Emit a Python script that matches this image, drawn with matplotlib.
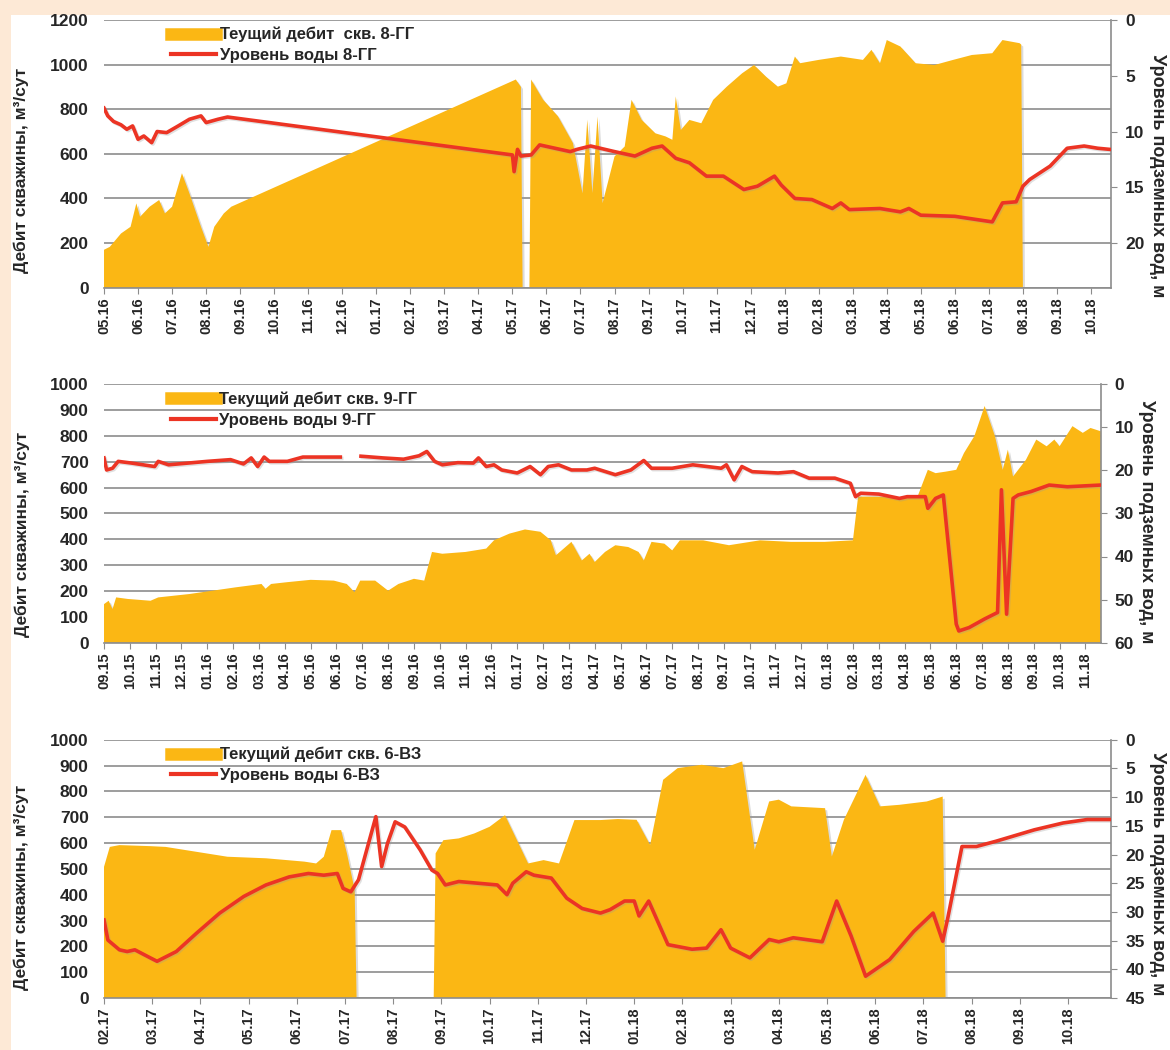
import numpy as np
import matplotlib
matplotlib.use("Agg")
from matplotlib import pyplot as plt
from matplotlib.lines import Line2D
from matplotlib.patches import Rectangle
import matplotlib.patheffects as pe

plt.rcParams['font.family'] = ['Liberation Sans', 'DejaVu Sans']
plt.rcParams['font.weight'] = 'bold'
plt.rcParams['axes.labelweight'] = 'bold'

ORANGE = '#fbb714'
RED = '#ec3424'
GRID = '#8c8c8c'
TXT = '#262626'

# ---- panel 1: well 8-GG, x = months since 05.16
t1_q = [0, 0.17, 0.5, 0.78, 0.95, 1.06, 1.34, 1.62, 1.79, 2.0, 2.29, 2.51, 2.85, 3.07,
        3.24, 3.52, 3.74, 12.1, 12.25, 12.3, 12.5, 12.55, 12.9, 13.34, 13.78, 14.06,
        14.2, 14.35, 14.5, 14.65, 15.0, 15.3, 15.5, 15.8, 16.2, 16.5, 16.7, 16.8, 16.95,
        17.2, 17.55, 17.9, 18.3, 18.75, 19.1, 19.45, 19.8, 20.05, 20.3, 20.45, 21.0,
        21.65, 22.3, 22.55, 22.8, 23.0, 23.4, 23.85, 24.4, 24.95, 25.5, 26.1, 26.4,
        26.9, 26.95, 27.0]
q1 = [170, 183, 243, 273, 378, 318, 363, 393, 333, 363, 513, 423, 273, 183,
      273, 333, 363, 933, 900, 0, 0, 933, 843, 768, 648, 423,
      753, 424, 767, 379, 588, 633, 842, 752, 692, 678, 663, 857, 707,
      752, 737, 842, 901, 961, 998, 946, 901, 916, 1036, 1006, 1021,
      1036, 1021, 1066, 1006, 1110, 1081, 1006, 998, 1021, 1043, 1051, 1110,
      1096, 1090, 0]
t1_h = [0, 0.11, 0.28, 0.5, 0.67, 0.84, 1.0, 1.17, 1.4, 1.56, 1.84, 2.18, 2.51, 2.85,
        3.0, 3.35, 3.63, 12.0, 12.05, 12.15, 12.25, 12.55, 12.8, 13.1, 13.7, 13.9, 14.3,
        15.0, 15.6, 16.1, 16.4, 16.8, 17.2, 17.7, 18.2, 18.8, 19.2, 19.7, 19.9, 20.3,
        20.8, 21.4, 21.65, 21.9, 22.8, 23.4, 23.65, 24.0, 25.0, 26.1, 26.4, 26.8, 27.0,
        27.2, 27.8, 28.3, 28.8, 29.2, 29.55]
h1 = [7.9, 8.6, 9.1, 9.4, 9.8, 9.5, 10.7, 10.4, 11.0, 10.0, 10.1, 9.5, 8.9, 8.6,
      9.2, 8.9, 8.7, 12.1, 13.6, 11.6, 12.2, 12.1, 11.2, 11.4, 11.8, 11.6, 11.3,
      11.8, 12.2, 11.5, 11.3, 12.4, 12.8, 14.0, 14.0, 15.2, 14.9, 14.0, 14.8, 16.0,
      16.1, 16.9, 16.4, 17.0, 16.9, 17.2, 16.9, 17.5, 17.6, 18.1, 16.4, 16.3, 14.9,
      14.3, 13.1, 11.5, 11.3, 11.5, 11.6]

# ---- panel 2: well 9-GG, x = months since 09.15
t2_q = [0, 0.18, 0.33, 0.47, 0.92, 1.8, 2.1, 3.3, 4.2, 5.1, 6.1, 6.25, 6.47, 7.1, 8.0,
        8.9, 9.4, 9.7, 9.92, 10.5, 11.0, 11.4, 12.0, 12.4, 12.7, 13.1, 14.0, 14.8,
        15.1, 15.7, 16.3, 16.9, 17.3, 17.5, 18.1, 18.5, 18.8, 19.0, 19.4, 19.8, 20.3,
        20.7, 20.9, 21.2, 21.7, 22.0, 22.3, 23.2, 24.2, 25.4, 26.6, 27.9, 29.0, 29.2,
        29.6, 30.3, 30.9, 31.5, 31.9, 32.2, 32.6, 33.0, 33.3, 33.7, 34.1, 34.5, 34.8,
        35.0, 35.2, 35.7, 36.1, 36.5, 36.8, 37.0, 37.5, 37.9, 38.2, 38.6]
q2 = [149, 162, 130, 175, 169, 162, 175, 188, 201, 214, 227, 208, 227, 234, 243,
      240, 227, 195, 240, 240, 201, 227, 247, 240, 351, 344, 351, 364,
      396, 422, 438, 429, 396, 338, 390, 318, 344, 312, 351, 377, 370,
      351, 318, 390, 383, 357, 396, 396, 377, 396, 390, 390, 396, 565,
      565, 565, 558, 565, 669, 656, 662, 669, 734, 799, 916, 799, 669,
      747, 643, 708, 786, 760, 786, 760, 838, 812, 831, 818]
t2_h = [0, 0.1, 0.33, 0.55, 1.07, 1.96, 2.1, 2.5, 4.0, 4.9, 5.4, 5.7, 5.95, 6.2, 6.4,
        7.1, 7.7, 9.15, 9.16, 9.95, 10.8, 11.6, 12.2, 12.5, 12.8, 13.1, 13.7, 14.3,
        14.5, 14.8, 15.1, 15.4, 16.0, 16.5, 16.9, 17.2, 17.6, 18.1, 18.7, 19.0, 19.8,
        20.4, 20.9, 21.2, 22.0, 22.8, 23.9, 24.1, 24.4, 24.7, 25.1, 26.1, 26.7, 27.3,
        28.3, 28.9, 29.1, 29.3, 30.0, 30.8, 31.1, 31.8, 31.9, 32.2, 32.5, 33.0, 33.1,
        33.5, 34.1, 34.6, 34.75, 34.95, 35.2, 35.4, 35.9, 36.6, 37.3, 38.6]
h2 = [17.1, 19.9, 19.5, 17.9, 18.3, 19.1, 17.9, 18.7, 17.9, 17.5, 18.5, 17.1, 19.1,
      16.9, 17.9, 17.9, 16.9, 16.9, np.nan, 16.7, 17.1, 17.4, 16.6, 15.6, 17.9, 18.7,
      18.2, 18.3, 17.1, 19.1, 18.7, 19.9, 20.6, 19.1, 21.0, 19.1, 18.7, 19.9, 19.9,
      19.5, 21.0, 19.9, 17.7, 19.5, 19.5, 18.7, 19.5, 18.7, 22.2, 19.1, 20.3, 20.6,
      20.3, 21.8, 21.8, 23.0, 26.1, 25.3, 25.5, 26.5, 26.1, 26.1, 28.8, 26.5, 25.7,
      55.7, 57.3, 56.5, 54.5, 53.0, 24.5, 53.4, 26.5, 25.7, 24.9, 23.4, 23.8, 23.4]

# ---- panel 3: well 6-VZ, x = months since 02.17
t3_q = [0, 0.12, 0.32, 0.96, 1.28, 1.92, 2.56, 3.36, 4.16, 4.4, 4.56, 4.72, 4.92,
        5.04, 5.2, 5.24, 6.84, 6.88, 7.04, 7.36, 7.68, 8.0, 8.32, 8.8, 9.12, 9.44,
        9.76, 10.3, 10.66, 11.05, 11.33, 11.6, 11.9, 12.4, 12.85, 13.24, 13.5, 13.8,
        14.0, 14.26, 14.96, 15.1, 15.35, 15.8, 16.1, 16.5, 17.07, 17.4, 17.46]
q3 = [508, 585, 592, 588, 585, 566, 547, 541, 528, 521, 547, 650, 650,
      560, 420, 0, 0, 560, 611, 618, 637, 663, 708, 521, 534, 521,
      689, 689, 693, 690, 593, 845, 890, 903, 890, 916, 574, 761,
      768, 742, 735, 548, 690, 864, 742, 748, 761, 780, 0]
t3_h = [0, 0.08, 0.32, 0.48, 0.64, 0.96, 1.1, 1.5, 1.92, 2.4, 2.9, 3.36, 3.84, 4.24,
        4.56, 4.84, 4.96, 5.12, 5.28, 5.64, 5.76, 5.88, 6.04, 6.24, 6.56, 6.8, 6.92,
        7.08, 7.36, 7.76, 8.16, 8.36, 8.48, 8.76, 8.92, 9.28, 9.6, 9.92, 10.3, 10.5,
        10.8, 11.0, 11.1, 11.3, 11.7, 12.2, 12.5, 12.8, 13.0, 13.4, 13.8, 14.0, 14.3,
        14.9, 15.2, 15.5, 15.8, 16.3, 16.8, 17.2, 17.4, 17.5, 17.8, 18.1, 18.5, 19.3,
        19.9, 20.4, 20.9]
h3 = [31.4, 34.9, 36.6, 36.9, 36.6, 38.0, 38.6, 36.9, 33.7, 30.2, 27.3, 25.3, 23.9,
      23.3, 23.6, 23.3, 25.9, 26.5, 24.4, 13.4, 22.1, 18.1, 14.3, 15.2, 19.2, 22.7,
      23.3, 25.3, 24.7, 25.0, 25.3, 27.0, 25.0, 23.0, 23.6, 24.1, 27.6, 29.4, 30.2,
      29.6, 28.1, 28.1, 30.7, 28.1, 35.7, 36.5, 36.3, 33.1, 36.3, 38.0, 34.8, 35.2,
      34.5, 35.2, 28.1, 34.2, 41.2, 38.3, 33.4, 30.2, 35.1, 31.3, 18.6, 18.6, 17.7,
      15.7, 14.5, 13.9, 13.9]


def month_labels(m, y, n):
    out = []
    for i in range(n):
        mm = (m - 1 + i) % 12 + 1
        yy = y + (m - 1 + i) // 12
        out.append("%02d.%02d" % (mm, yy))
    return out


panels = [
    dict(rect=[0.0889, 0.726, 0.861, 0.255], tq=t1_q, q=q1, th=t1_h, h=h1,
         labels=month_labels(5, 16, 30), xmax=29.6, qmax=1200, qstep=200,
         hmax=24, hticks=[0, 5, 10, 15, 20], ly=(0.44, 0.42),
         leg=["Теущий дебит  скв. 8-ГГ", "Уровень воды 8-ГГ"]),
    dict(rect=[0.0889, 0.388, 0.852, 0.246], tq=t2_q, q=q2, th=t2_h, h=h2,
         labels=month_labels(9, 15, 39), xmax=38.6, qmax=1000, qstep=100,
         hmax=60, hticks=list(range(0, 61, 10)), ly=(0.42, 0.47),
         leg=["Текущий дебит скв. 9-ГГ", "Уровень воды 9-ГГ"]),
    dict(rect=[0.0889, 0.0495, 0.861, 0.246], tq=t3_q, q=q3, th=t3_h, h=h3,
         labels=month_labels(2, 17, 21), xmax=20.9, qmax=1000, qstep=100,
         hmax=45, hticks=list(range(0, 46, 5)), ly=(0.43, 0.48),
         leg=["Текущий дебит скв. 6-ВЗ", "Уровень воды 6-ВЗ"]),
]

fig = plt.figure(figsize=(11.7, 10.5), dpi=100)
fig.patch.set_facecolor('#fde9d6')
fig.add_artist(Rectangle((11 / 1170, 0), 1, 1 - 15 / 1050, transform=fig.transFigure,
                         facecolor='white', edgecolor='none', zorder=-10))

for p in panels:
    ax = fig.add_axes(p['rect'])
    ax.set_facecolor('none')
    ax.fill_between(p['tq'], 0, p['q'], color=ORANGE, lw=0, zorder=2,
                    path_effects=[pe.SimplePatchShadow(offset=(1.5, -1.5), shadow_rgbFace='#9a9a9a', alpha=0.35),
                                  pe.Normal()])
    ax.set_xlim(0, p['xmax'])
    ax.set_ylim(0, p['qmax'])
    ax.set_yticks(np.arange(0, p['qmax'] + 1, p['qstep']))
    ax.yaxis.grid(True, color=GRID, lw=1.2, zorder=0)
    ax.set_axisbelow(True)
    ax.set_xticks(range(len(p['labels'])))
    ax.set_xticklabels(p['labels'], rotation=90, fontsize=10.5, color=TXT)
    ax.tick_params(axis='y', labelsize=12.5, colors=TXT, length=0, pad=11)
    ax.tick_params(axis='x', length=4, color=GRID, pad=3)
    for s in ['top', 'right']:
        ax.spines[s].set_visible(False)
    ax.spines['left'].set_visible(False)
    ax.spines['bottom'].set_color(GRID)
    ax.spines['bottom'].set_linewidth(1.2)
    ax.set_ylabel("Дебит скважины, м³/сут", fontsize=12.5, color=TXT)
    ax.yaxis.set_label_coords(-0.074, p['ly'][0])

    ax2 = ax.twinx()
    ax2.plot(p['th'], p['h'], color=RED, lw=2.6, zorder=3,
             path_effects=[pe.SimpleLineShadow(offset=(1, -1), shadow_color='#999999', alpha=0.3),
                           pe.Normal()])
    ax2.set_ylim(p['hmax'], 0)
    ax2.set_yticks(p['hticks'])
    ax2.tick_params(axis='y', labelsize=12.5, colors=TXT, length=4, pad=6)
    ax2.tick_params(axis='y', color=GRID)
    for s in ['top', 'left', 'bottom']:
        ax2.spines[s].set_visible(False)
    ax2.spines['right'].set_color(GRID)
    ax2.spines['right'].set_linewidth(1.2)
    ax2.set_ylabel("Уровень подземных вод, м", rotation=270, fontsize=13,
                   color=TXT, va='center')
    ax2.yaxis.set_label_coords(1.0 + 46 / (p['rect'][2] * 1170), p['ly'][1])

    handles = [Line2D([], [], color=ORANGE, lw=9), Line2D([], [], color=RED, lw=3)]
    ax2.legend(handles, p['leg'], loc='upper left', bbox_to_anchor=(0.052, 1.03),
               frameon=False, fontsize=12, handlelength=2.7, handletextpad=0.2,
               labelspacing=0.35, labelcolor=TXT)

fig.savefig("out.png", dpi=100, facecolor=fig.get_facecolor())
